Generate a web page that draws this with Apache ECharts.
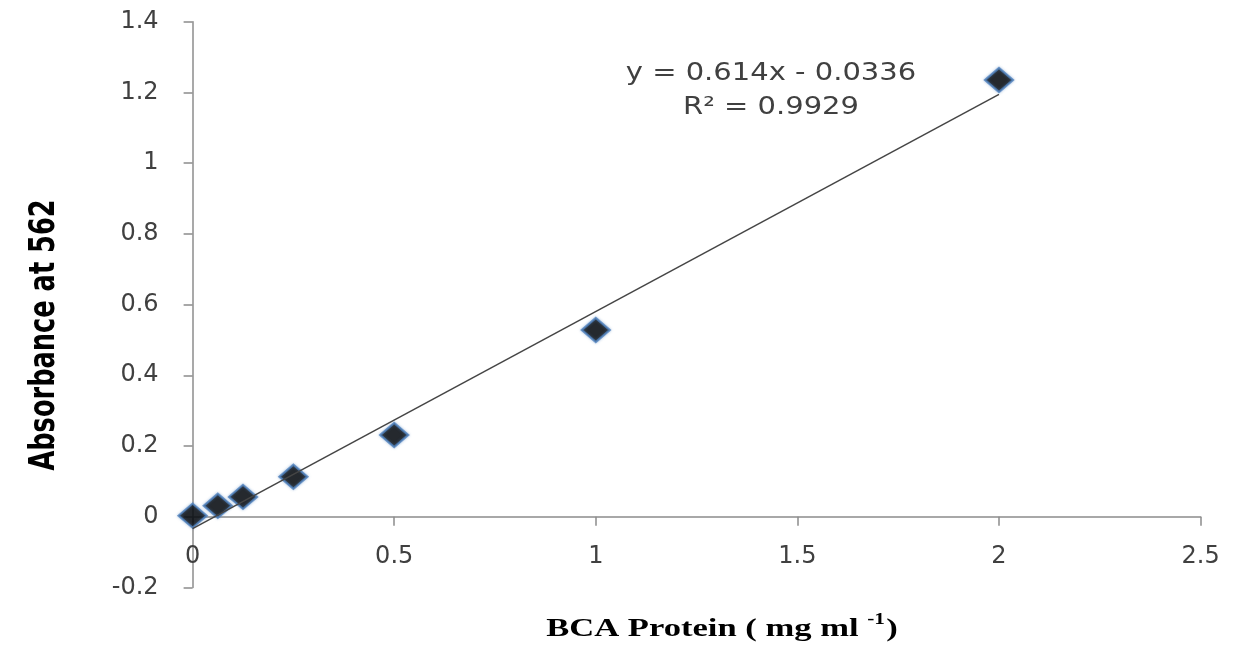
<!DOCTYPE html>
<html>
<head>
<meta charset="utf-8">
<script src="https://cdn.jsdelivr.net/npm/echarts@6/dist/echarts.min.js"></script>
<style>html,body{margin:0;padding:0;background:#fff}#c{width:1236px;height:646px}</style>
</head>
<body>
<div id="c"></div>
<script>
// Data
var proteinConc = [0, 0.0625, 0.125, 0.25, 0.5, 1, 2];
var absorbance  = [0.003, 0.031, 0.056, 0.113, 0.231, 0.528, 1.235];
// Linear trendline endpoints (from printed equation y = 0.614x - 0.0336)
var trendX = [0, 2];
var trendY = [-0.0336, 1.1944];
var equationLine = 'y = 0.614x - 0.0336';
var r2Line = 'R\u00B2 = 0.9929';
var yTitle = 'Absorbance at 562';
var xTitleMain = 'BCA Protein ( mg ml ';
var xTitleSup = '-1';

var chart = echarts.init(document.getElementById('c'), null, {renderer: 'canvas'});
var pts = proteinConc.map(function (x, i) { return [x, absorbance[i]]; });
var trend = trendX.map(function (x, i) { return [x, trendY[i]]; });

var axisCol = '#8c8c8c';
var labelCol = '#404040';
var yMin = -0.2, yMax = 1.4;
var gridTop = 21.7, gridBottom = 58.6, chartH = 646;
var plotH = chartH - gridTop - gridBottom;
// shift the x axis up to the y = 0 line
var xOffset = -plotH * (0 - yMin) / (yMax - yMin);

chart.setOption({
  animation: false,
  backgroundColor: '#ffffff',
  grid: {left: 192.6, right: 35.4, top: gridTop, bottom: gridBottom, containLabel: false},
  xAxis: {
    type: 'value', min: 0, max: 2.5, interval: 0.5,
    offset: xOffset,
    splitLine: {show: false},
    axisLine: {onZero: false, lineStyle: {color: axisCol, width: 1.5}},
    axisTick: {length: 9, lineStyle: {color: axisCol, width: 1.5}},
    axisLabel: {margin: 28, color: labelCol, fontFamily: 'DejaVu Sans', fontSize: 24}
  },
  yAxis: {
    type: 'value', min: yMin, max: yMax, interval: 0.2,
    splitLine: {show: false},
    axisLine: {show: true, onZero: false, lineStyle: {color: axisCol, width: 1.5}},
    axisTick: {show: true, length: 9, lineStyle: {color: axisCol, width: 1.5}},
    axisLabel: {margin: 34, color: labelCol, fontFamily: 'DejaVu Sans', fontSize: 24,
      formatter: function (v) { return String(Math.round(v * 10) / 10); }}
  },
  series: [
    {
      type: 'scatter', data: pts, symbol: 'diamond', symbolSize: [28, 24],
      itemStyle: {color: '#000000', borderColor: '#4f81bd', borderWidth: 2.2,
        shadowColor: 'rgba(79,129,189,0.5)', shadowBlur: 3},
      z: 2
    },
    {
      type: 'line', data: trend, symbol: 'none', silent: true,
      lineStyle: {color: '#454545', width: 1.5}, z: 3
    }
  ],
  graphic: [
    {type: 'text', x: 45, y: 335, rotation: Math.PI / 2, scaleY: 1.25,
      style: {text: yTitle, fill: '#000', font: 'bold 28.5px "DejaVu Sans Condensed", "DejaVu Sans"',
        textAlign: 'center', textVerticalAlign: 'middle'}},
    {type: 'text', x: 722, y: 627, scaleX: 1.33,
      style: {text: '{m|' + xTitleMain + '}{s|' + xTitleSup + '}{m|)}',
        textAlign: 'center', textVerticalAlign: 'middle',
        rich: {
          m: {font: 'bold 26px "Liberation Serif"', fill: '#000', verticalAlign: 'bottom'},
          s: {font: 'bold 16px "Liberation Serif"', fill: '#000', verticalAlign: 'top', padding: [0, 1, 15, 0]}
        }}},
    {type: 'text', x: 771, y: 73, scaleX: 1.16,
      style: {text: equationLine, fill: labelCol, font: '25px "DejaVu Sans"',
        textAlign: 'center', textVerticalAlign: 'middle'}},
    {type: 'text', x: 771, y: 107, scaleX: 1.16,
      style: {text: r2Line, fill: labelCol, font: '25px "DejaVu Sans"',
        textAlign: 'center', textVerticalAlign: 'middle'}}
  ]
});
</script>
</body>
</html>
